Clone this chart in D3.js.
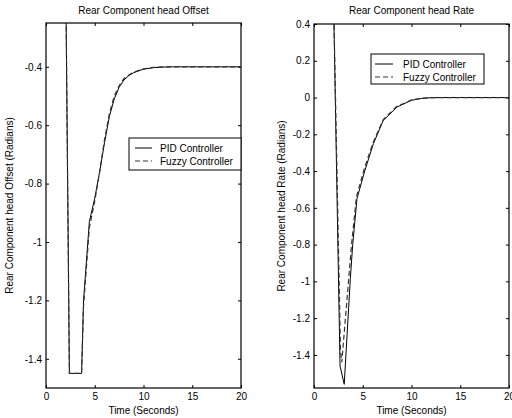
<!DOCTYPE html>
<html>
<head>
<meta charset="utf-8">
<script src="https://cdn.jsdelivr.net/npm/d3@7"></script>
<style>
body { margin: 0; background: #fff; }
text { font-family: "Liberation Sans", Arial, sans-serif; }
</style>
</head>
<body>
<div id="chart"></div>
<script>
// Rear component head offset (left panel)
var offsetTime  = [0, 2.0, 2.4, 3.65, 3.85, 4.45, 5.0, 5.5, 6.0, 6.5, 7.0, 7.5, 8.0, 8.5, 9.0, 10, 11, 12, 13, 14, 15, 16, 17, 18, 19, 20];
var offsetPid   = [0, 0, -1.45, -1.45, -1.2, -0.93, -0.85, -0.76, -0.66, -0.57, -0.51, -0.47, -0.445, -0.43, -0.42, -0.408, -0.403, -0.401, -0.4, -0.4, -0.4, -0.4, -0.4, -0.4, -0.4, -0.4];
var offsetFuzzy = [0, 0, -1.45, -1.45, -1.22, -0.95, -0.86, -0.76, -0.65, -0.56, -0.5, -0.465, -0.44, -0.428, -0.418, -0.407, -0.402, -0.4, -0.4, -0.4, -0.4, -0.4, -0.4, -0.4, -0.4, -0.4];

// Rear component head rate (right panel)
var rateTime       = [0, 2.0, 2.67, 3.1, 3.72, 3.97, 4.41, 5.2, 6.1, 7.1, 8.5, 10, 11, 12, 13, 14, 15, 16, 17, 18, 19, 20];
var ratePid        = [0.55, 0.55, -1.46, -1.56, -0.99, -0.8, -0.55, -0.4, -0.25, -0.125, -0.052, -0.015, -0.005, -0.001, 0, 0, 0, 0, 0, 0, 0, 0];
var rateFuzzyTime  = [0, 2.0, 2.72, 2.85, 3.85, 4.35, 5.2, 6.1, 7.1, 8.5, 10, 11, 12, 13, 14, 15, 16, 17, 18, 19, 20];
var rateFuzzy      = [0.55, 0.55, -1.38, -1.44, -0.8, -0.54, -0.38, -0.24, -0.12, -0.048, -0.013, -0.004, 0, 0, 0, 0, 0, 0, 0, 0, 0];

var xTicks = [0, 5, 10, 15, 20];
var offsetTicks = [-1.4, -1.2, -1, -0.8, -0.6, -0.4];
var rateTicks = [-1.4, -1.2, -1, -0.8, -0.6, -0.4, -0.2, 0, 0.2, 0.4];
var seriesNames = ["PID Controller", "Fuzzy Controller"];

var width = 512, height = 418;
var fs = 10;
var svg = d3.select("#chart").append("svg")
    .attr("width", width)
    .attr("height", height);

function drawPanel(opt) {
    var g = svg.append("g");
    var x = d3.scaleLinear().domain([0, 20]).range([opt.left, opt.right]);
    var y = d3.scaleLinear().domain(opt.yDomain).range([opt.bottom, opt.top]);

    var clipId = "clip" + opt.id;
    svg.append("clipPath").attr("id", clipId)
        .append("rect")
        .attr("x", opt.left).attr("y", opt.top)
        .attr("width", opt.right - opt.left)
        .attr("height", opt.bottom - opt.top);

    // axes with inward ticks on all four sides
    var xb = g.append("g").attr("transform", "translate(0," + opt.bottom + ")")
        .call(d3.axisBottom(x).tickValues(xTicks).tickSize(-3).tickPadding(5).tickFormat(d3.format("d")));
    var xt = g.append("g").attr("transform", "translate(0," + opt.top + ")")
        .call(d3.axisTop(x).tickValues(xTicks).tickSize(-3).tickFormat(""));
    var yl = g.append("g").attr("transform", "translate(" + opt.left + ",0)")
        .call(d3.axisLeft(y).tickValues(opt.yTicks).tickSize(-3).tickPadding(4).tickFormat(d3.format("~g")));
    var yr = g.append("g").attr("transform", "translate(" + opt.right + ",0)")
        .call(d3.axisRight(y).tickValues(opt.yTicks).tickSize(-3).tickFormat(""));
    [xb, xt, yl, yr].forEach(function (a) {
        a.select(".domain").remove();
        a.selectAll("line").attr("stroke", "#000");
        a.selectAll("text").attr("font-size", fs).attr("fill", "#000")
            .style("font-family", "'Liberation Sans', Arial, sans-serif");
    });
    yl.selectAll("text").text(function (d) { return d3.format("~g")(d).replace("−", "-"); });

    g.append("rect")
        .attr("x", opt.left).attr("y", opt.top)
        .attr("width", opt.right - opt.left)
        .attr("height", opt.bottom - opt.top)
        .attr("fill", "none")
        .attr("stroke", "#000")
        .attr("stroke-width", 1.2);

    var line = d3.line()
        .x(function (d) { return x(d[0]); })
        .y(function (d) { return y(d[1]); });

    var curves = g.append("g").attr("clip-path", "url(#" + clipId + ")");
    curves.append("path")
        .datum(d3.zip(opt.pidTime, opt.pid))
        .attr("d", line)
        .attr("fill", "none")
        .attr("stroke", "#000")
        .attr("stroke-width", 1);
    curves.append("path")
        .datum(d3.zip(opt.fuzzyTime, opt.fuzzy))
        .attr("d", line)
        .attr("fill", "none")
        .attr("stroke", "#333")
        .attr("stroke-width", 1.2)
        .attr("stroke-dasharray", "5,3");

    // title and labels
    g.append("text")
        .attr("x", (opt.left + opt.right) / 2)
        .attr("y", 14)
        .attr("text-anchor", "middle")
        .attr("font-size", fs)
        .text(opt.title);
    g.append("text")
        .attr("x", (opt.left + opt.right) / 2)
        .attr("y", 414)
        .attr("text-anchor", "middle")
        .attr("font-size", fs)
        .text("Time (Seconds)");
    g.append("text")
        .attr("transform", "translate(" + opt.ylabelX + "," + ((opt.top + opt.bottom) / 2) + ") rotate(-90)")
        .attr("text-anchor", "middle")
        .attr("font-size", fs)
        .text(opt.ylabel);

    // legend
    var lg = g.append("g");
    lg.append("rect")
        .attr("x", opt.legend.x).attr("y", opt.legend.y)
        .attr("width", opt.legend.w).attr("height", opt.legend.h)
        .attr("fill", "#fff")
        .attr("stroke", "#000")
        .attr("stroke-width", 1);
    seriesNames.forEach(function (name, i) {
        var ry = opt.legend.y + 10 + i * 13;
        lg.append("line")
            .attr("x1", opt.legend.x + opt.legend.s0)
            .attr("x2", opt.legend.x + opt.legend.s1)
            .attr("y1", ry).attr("y2", ry)
            .attr("stroke", i ? "#333" : "#000")
            .attr("stroke-width", 1)
            .attr("stroke-dasharray", i ? "5,3" : null);
        lg.append("text")
            .attr("x", opt.legend.x + opt.legend.tx)
            .attr("y", ry + 3.5)
            .attr("font-size", fs)
            .text(name);
    });
}

drawPanel({
    id: "offset",
    left: 46, right: 241, top: 23, bottom: 388,
    yDomain: [-1.5, -0.25],
    yTicks: offsetTicks,
    pidTime: offsetTime, pid: offsetPid,
    fuzzyTime: offsetTime, fuzzy: offsetFuzzy,
    title: "Rear Component head Offset",
    ylabel: "Rear Component head Offset (Radians)",
    ylabelX: 13,
    legend: { x: 129, y: 138, w: 112, h: 32, s0: 6, s1: 23, tx: 31 }
});

drawPanel({
    id: "rate",
    left: 314, right: 509, top: 24, bottom: 388,
    yDomain: [-1.58, 0.4],
    yTicks: rateTicks,
    pidTime: rateTime, pid: ratePid,
    fuzzyTime: rateFuzzyTime, fuzzy: rateFuzzy,
    title: "Rear Component head Rate",
    ylabel: "Rear Component head Rate (Radians)",
    ylabelX: 285,
    legend: { x: 371, y: 54, w: 113, h: 30, s0: 4, s1: 22, tx: 32 }
});
</script>
</body>
</html>
